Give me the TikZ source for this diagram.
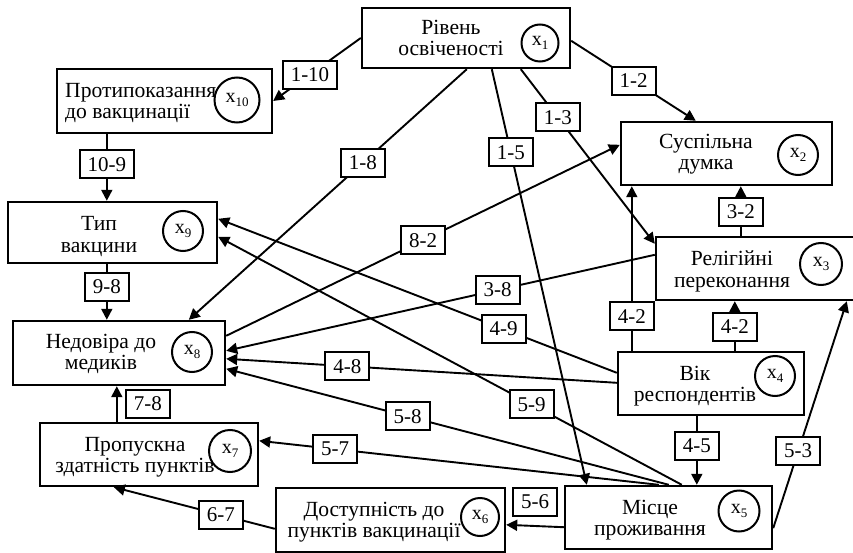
\documentclass[tikz,border=0pt]{standalone}
\usepackage{fontspec}
\setmainfont{Liberation Serif}
\usetikzlibrary{arrows.meta,calc}
\newcommand{\xsub}[1]{{\fontsize{20}{20}\selectfont x}\raisebox{-3.5pt}{\fontsize{13}{13}\selectfont #1}}
\begin{document}
\begin{tikzpicture}[x=1pt,y=-1pt,
 box/.style={draw, line width=2.4pt, rectangle, inner sep=0pt},
 txt/.style={font=\fontsize{21.6}{21}\selectfont, align=center, inner sep=0pt, anchor=base},
 var/.style={draw, circle, line width=2pt, inner sep=0pt, minimum size=40pt},
 arr/.style={line width=1.9pt, -{Triangle[length=11pt,width=11pt]}},
 lab/.style={draw, fill=white, line width=2pt, font=\fontsize{21}{21}\selectfont, inner xsep=8pt, inner ysep=0pt, minimum height=28pt},
]
\useasboundingbox (0,0) rectangle (853,553);
\fill[white] (0,0) rectangle (853,553);

% boxes
\node[box, minimum width=208pt, minimum height=60pt] (x1) at (466,38) {};
\node[box, minimum width=215pt, minimum height=64pt] (x10) at (164.5,101) {};
\node[box, minimum width=211pt, minimum height=63pt] (x2) at (726.5,153.5) {};
\node[box, minimum width=209pt, minimum height=61pt] (x9) at (112.5,232.5) {};
\node[box, minimum width=212pt, minimum height=64pt] (x8) at (119,353) {};
\node[box, minimum width=206pt, minimum height=63pt] (x3) at (759,268.5) {};
\node[box, minimum width=186pt, minimum height=63pt] (x4) at (711,383.5) {};
\node[box, minimum width=218pt, minimum height=63pt] (x7) at (149,454.5) {};
\node[box, minimum width=229pt, minimum height=64pt] (x6) at (390.5,520) {};
\node[box, minimum width=207pt, minimum height=63pt] (x5) at (668.5,517.5) {};

% texts (anchor = baseline of the last line)
\node[txt] (t1) at (451,56) {Рівень\\освіченості};
\node[txt, anchor=base west, align=left] (t10) at (65,119) {Протипоказання\\до вакцинації};
\node[txt] (t2) at (706,170) {Суспільна\\думка};
\node[txt] (t9) at (99,252) {Тип\\вакцини};
\node[txt] (t8) at (101,369) {Недовіра до\\медиків};
\node[txt] (t3) at (732,287) {Релігійні\\переконання};
\node[txt] (t4) at (695,401) {Вік\\респондентів};
\node[txt] (t5) at (650,535) {Місце\\проживання};
\node[txt] (t6) at (374,537) {Доступність до\\пунктів вакцинації};
\node[txt] (t7) at (135,472) {Пропускна\\здатність пунктів};

% circles
\node[var, minimum size=37pt] (c1) at (540,43) {\xsub{1}};
\node[var, minimum size=45pt] (c10) at (237,100) {\xsub{10}};
\node[var] (c2) at (798,155) {\xsub{2}};
\node[var] (c9) at (183,231) {\xsub{9}};
\node[var] (c8) at (192,352) {\xsub{8}};
\node[var, minimum size=42pt] (c3) at (821,264) {\xsub{3}};
\node[var] (c4) at (775,376) {\xsub{4}};
\node[var, minimum size=41pt] (c5) at (739,511) {\xsub{5}};
\node[var, minimum size=38pt] (c6) at (480,517) {\xsub{6}};
\node[var, minimum size=42pt] (c7) at (230,451) {\xsub{7}};

% connectors
\draw[arr] (x1.west) -- node[lab, pos=0.58] {1-10} (x10.east);
\draw[arr] ($(x10.south west)+(51,0)$) -- node[lab, pos=0.45] {10-9} ($(x9.north west)+(100,0)$);
\draw[arr] ($(x9.south west)+(100,0)$) -- node[lab, pos=0.41] {9-8} ($(x8.north west)+(95,0)$);
\draw[arr] ($(x1.south west)+(106,0)$) -- node[lab, pos=0.374] {1-8} ($(x8.north west)+(177,0)$);
\draw[arr] ($(x1.north east)+(0,34)$) -- node[lab, pos=0.5] {1-2} ($(x2.north west)+(76,0)$);
\draw[arr] ($(x1.south west)+(160,0)$) -- node[lab, pos=0.276] {1-3} ($(x3.north west)+(0,8)$);
\draw[arr] ($(x1.south west)+(131,0)$) -- node[lab, pos=0.2] {1-5} ($(x5.north west)+(23,0)$);
\draw[arr] ($(x8.north east)+(0,16)$) -- node[lab, pos=0.5] {8-2} ($(x2.north west)+(0,24)$);
\draw[arr] ($(x3.north west)+(86,0)$) -- node[lab, pos=0.48] {3-2} ($(x2.south west)+(121,0)$);
\draw[arr] ($(x4.north west)+(15,0)$) -- node[lab, pos=0.21] {4-2} ($(x2.south west)+(12,0)$);
\draw[arr] ($(x4.north west)+(118,0)$) -- node[lab, pos=0.48] {4-2} ($(x3.south west)+(80,0)$);
\draw[arr] ($(x3.north west)+(0,19)$) -- node[lab, pos=0.367] {3-8} ($(x8.north east)+(0,31)$);
\draw[arr] ($(x4.north west)+(0,22)$) -- node[lab, pos=0.284] {4-9} ($(x9.north east)+(0,18)$);
\draw[arr] ($(x5.north west)+(118,0)$) -- node[lab, pos=0.324] {5-9} ($(x9.north east)+(0,36)$);
\draw[arr] ($(x4.north west)+(0,32)$) -- node[lab, pos=0.69] {4-8} ($(x8.north east)+(0,39)$);
\draw[arr] ($(x5.north west)+(105,0)$) -- node[lab, pos=0.59] {5-8} ($(x8.north east)+(0,49)$);
\draw[arr] ($(x5.north west)+(95,0)$) -- node[lab, pos=0.81] {5-7} ($(x7.north east)+(0,19)$);
\draw[arr] ($(x4.south west)+(80,0)$) -- node[lab, pos=0.43] {4-5} ($(x5.north west)+(133,0)$);
\draw[arr] ($(x5.south east)+(0,-22)$) -- node[lab, pos=0.34] {5-3} ($(x3.south west)+(192,0)$);
\draw[arr] ($(x5.south west)+(0,-23)$) -- node[lab, midway, above=9pt] {5-6} ($(x6.north east)+(0,38)$);
\draw[arr] ($(x6.north west)+(0,42)$) -- node[lab, pos=0.335] {6-7} ($(x7.south west)+(75,0)$);
\draw[arr] ($(x7.north west)+(78,0)$) -- node[lab, midway, right=8pt] {7-8} ($(x8.south west)+(105,0)$);
\end{tikzpicture}
\end{document}
